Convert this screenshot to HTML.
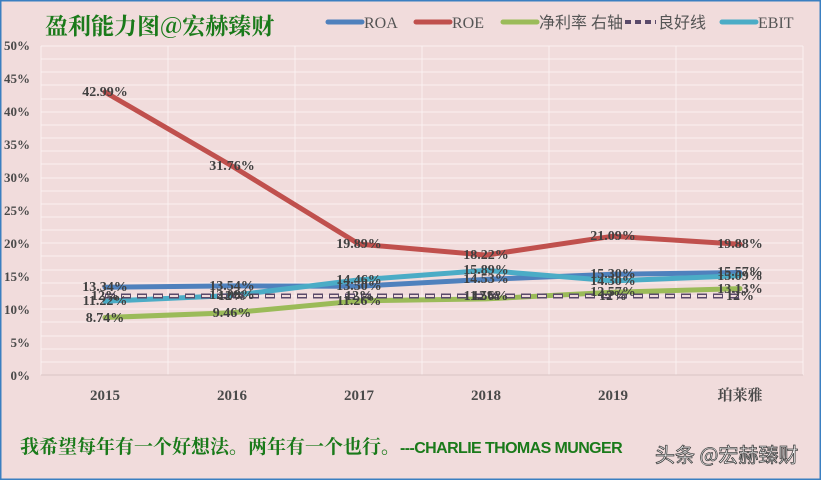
<!DOCTYPE html>
<html><head><meta charset="utf-8"><style>
html,body{margin:0;padding:0;background:#f1dcdc}
svg{display:block}
</style></head><body>
<svg width="821" height="480" xmlns="http://www.w3.org/2000/svg">
<rect x="0.5" y="0.5" width="820" height="479" fill="#f1dcdc" stroke="#3a7fc1" stroke-width="2"/>
<g stroke="#fbf1f1" stroke-width="1">
<line x1="41" y1="362" x2="803" y2="362"/><line x1="41" y1="349" x2="803" y2="349"/><line x1="41" y1="336" x2="803" y2="336"/><line x1="41" y1="322" x2="803" y2="322"/>
<line x1="41" y1="309" x2="803" y2="309"/><line x1="41" y1="296" x2="803" y2="296"/><line x1="41" y1="283" x2="803" y2="283"/><line x1="41" y1="270" x2="803" y2="270"/>
<line x1="41" y1="256" x2="803" y2="256"/><line x1="41" y1="243" x2="803" y2="243"/><line x1="41" y1="230" x2="803" y2="230"/><line x1="41" y1="217" x2="803" y2="217"/>
<line x1="41" y1="204" x2="803" y2="204"/><line x1="41" y1="191" x2="803" y2="191"/><line x1="41" y1="178" x2="803" y2="178"/><line x1="41" y1="164" x2="803" y2="164"/>
<line x1="41" y1="151" x2="803" y2="151"/><line x1="41" y1="138" x2="803" y2="138"/><line x1="41" y1="125" x2="803" y2="125"/><line x1="41" y1="112" x2="803" y2="112"/>
<line x1="41" y1="99" x2="803" y2="99"/><line x1="41" y1="85" x2="803" y2="85"/><line x1="41" y1="72" x2="803" y2="72"/><line x1="41" y1="59" x2="803" y2="59"/><line x1="41" y1="46" x2="803" y2="46"/>
<line x1="41" y1="46" x2="41" y2="375"/><line x1="168" y1="46" x2="168" y2="375"/><line x1="295" y1="46" x2="295" y2="375"/><line x1="422" y1="46" x2="422" y2="375"/><line x1="549" y1="46" x2="549" y2="375"/><line x1="676" y1="46" x2="676" y2="375"/><line x1="803" y1="46" x2="803" y2="375"/>
</g>
<line x1="41" y1="375" x2="803" y2="375" stroke="#d9c4c4"/>
<g font-family="Liberation Serif, serif" font-weight="bold" font-size="13" fill="#4a4a4a" text-anchor="end">
<text x="30" y="380">0%</text><text x="30" y="347">5%</text><text x="30" y="314">10%</text><text x="30" y="281">15%</text><text x="30" y="248">20%</text><text x="30" y="215">25%</text><text x="30" y="182">30%</text><text x="30" y="149">35%</text><text x="30" y="116">40%</text><text x="30" y="83">45%</text><text x="30" y="50">50%</text>
</g>
<g font-family="Liberation Serif, 'Noto Serif CJK SC', serif" font-weight="bold" font-size="15" fill="#4a4a4a" text-anchor="middle">
<text x="105" y="400">2015</text><text x="232" y="400">2016</text><text x="359" y="400">2017</text><text x="486" y="400">2018</text><text x="613" y="400">2019</text><text x="740" y="400">珀莱雅</text>
</g>
<g fill="none" stroke-width="5" stroke-linejoin="round" stroke-linecap="round">
<polyline stroke="#9bbb59" points="105,317.5 232,312.8 359,300.9 486,298.9 613,292.3 740,288.6"/>
<polyline stroke="#4f81bd" points="105,287.2 232,285.9 359,286.2 486,279.4 613,274.3 740,272.5"/>
<polyline stroke="#4bacc6" points="105,301.2 232,295.5 359,279.9 486,270.4 613,280.9 740,275.7"/>
<polyline stroke="#c0504d" points="105,92.1 232,166 359,244.1 486,255.1 613,236.2 740,244.2"/>
</g>
<line x1="105" y1="296" x2="740" y2="296" stroke="#5a4a6a" stroke-width="5" stroke-dasharray="10,6"/>
<line x1="105" y1="296" x2="740" y2="296" stroke="#f1dcdc" stroke-width="2" stroke-dasharray="8,8" stroke-dashoffset="-1"/>
<g font-family="Liberation Serif, serif" font-weight="bold" font-size="14" fill="#404040" text-anchor="middle">
<text x="105" y="96">42.99%</text><text x="232" y="170">31.76%</text><text x="359" y="248">19.89%</text><text x="486" y="259">18.22%</text><text x="613" y="240">21.09%</text><text x="740" y="248">19.88%</text>
<text x="105" y="291">13.34%</text><text x="232" y="290">13.54%</text><text x="359" y="290">13.50%</text><text x="486" y="283">14.53%</text><text x="613" y="278">15.30%</text><text x="740" y="276">15.57%</text>
<text x="105" y="305">11.22%</text><text x="232" y="299">12.08%</text><text x="359" y="284">14.46%</text><text x="486" y="274">15.89%</text><text x="613" y="285">14.30%</text><text x="740" y="280">15.09%</text>
<text x="105" y="322">8.74%</text><text x="232" y="317">9.46%</text><text x="359" y="305">11.26%</text><text x="486" y="300">11.56%</text><text x="613" y="296">12.57%</text><text x="740" y="293">13.13%</text>
<text x="105" y="300">12%</text><text x="232" y="300">12%</text><text x="359" y="300">12%</text><text x="486" y="300">12%</text><text x="613" y="300">12%</text><text x="740" y="300">12%</text>
</g>
<text x="45" y="34" font-family="'Noto Serif CJK SC', serif" font-weight="bold" font-size="23" fill="#1a7a1a">盈利能力图@宏赫臻财</text>
<g font-family="Liberation Serif, 'Noto Sans CJK SC', serif" font-size="16" fill="#555">
<line x1="328" y1="22" x2="362" y2="22" stroke="#4f81bd" stroke-width="5" stroke-linecap="round"/><text x="364" y="28">ROA</text>
<line x1="416" y1="22" x2="450" y2="22" stroke="#c0504d" stroke-width="5" stroke-linecap="round"/><text x="452" y="28">ROE</text>
<line x1="503" y1="22" x2="537" y2="22" stroke="#9bbb59" stroke-width="5" stroke-linecap="round"/><text x="539" y="28">净利率 右轴</text>
<line x1="625" y1="22" x2="656" y2="22" stroke="#5a4a6a" stroke-width="4" stroke-dasharray="6,4"/><text x="658" y="28">良好线</text>
<line x1="722" y1="22" x2="756" y2="22" stroke="#4bacc6" stroke-width="5" stroke-linecap="round"/><text x="758" y="28">EBIT</text>
</g>
<text x="20" y="453" font-family="'Noto Serif CJK SC', serif" font-weight="bold" font-size="19" fill="#1a7a1a">我希望每年有一个好想法。两年有一个也行。<tspan font-family="Liberation Sans, sans-serif" font-size="16" letter-spacing="-0.6">---CHARLIE THOMAS MUNGER</tspan></text>
<text x="655" y="462" font-family="'Noto Sans CJK SC', sans-serif" font-size="20" fill="#fff" stroke="#444" stroke-width="0.8">头条 @宏赫臻财</text>
</svg>
</body></html>
